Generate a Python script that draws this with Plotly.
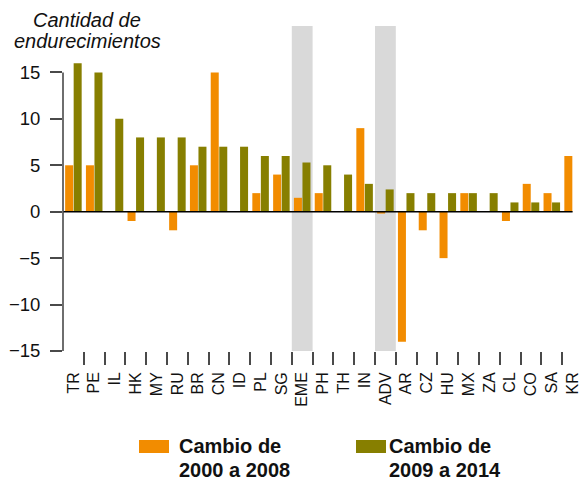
import plotly.graph_objects as go

# Countries / aggregates along the horizontal axis
categories = ["TR", "PE", "IL", "HK", "MY", "RU", "BR", "CN", "ID", "PL", "SG", "EME",
              "PH", "TH", "IN", "ADV", "AR", "CZ", "HU", "MX", "ZA", "CL", "CO", "SA", "KR"]

# Net number of tightening measures per period
change_2000_2008 = [5, 5, 0, -1, 0, -2, 5, 15, 0, 2, 4, 1.5,
                    2, 0, 9, -0.2, -14, -2, -5, 2, 0, -1, 3, 2, 6]
change_2009_2014 = [16, 15, 10, 8, 8, 8, 7, 7, 7, 6, 6, 5.3,
                    5, 4, 3, 2.4, 2, 2, 2, 2, 2, 1, 1, 1, 0]

# Aggregates highlighted with a shaded column
highlighted = ["EME", "ADV"]

y_ticks = [-15, -10, -5, 0, 5, 10, 15]
y_range = [-15, 20]

series_lines = [["Cambio de", "2000 a 2008"], ["Cambio de", "2009 a 2014"]]
title_lines = ["Cantidad de", "endurecimientos"]
colors = ["#F28C00", "#877F00"]

FONT = "Liberation Sans, Arial, Helvetica, sans-serif"
TEXT = "#111111"
AXIS = "#4a4a4a"

W, H = 583, 481
ML, MR, MT, MB = 63, 0, 26, 130
PW, PH = W - ML - MR, H - MT - MB


def px_x(px):
    return (px - ML) / PW


def px_y(py):
    return (H - MB - py) / PH


idx = list(range(len(categories)))

fig = go.Figure()
for vals, lines, col in zip([change_2000_2008, change_2009_2014], series_lines, colors):
    fig.add_trace(go.Bar(x=idx, y=vals, name=" ".join(lines),
                         marker=dict(color=col, line=dict(width=0)), showlegend=False))

# invisible trace that carries the boundary tick marks on the overlaid axis
fig.add_trace(go.Scatter(x=[idx[0]], y=[0], xaxis="x2", mode="markers",
                         marker=dict(opacity=0), showlegend=False, hoverinfo="skip"))

shapes = []
for name in highlighted:
    i = categories.index(name)
    shapes.append(dict(type="rect", xref="x", yref="paper", x0=i - 0.5, x1=i + 0.5,
                       y0=0, y1=1, fillcolor="#d9d9d9", line=dict(width=0), layer="below"))

# zero line across the bars
shapes.append(dict(type="line", xref="x", yref="y", x0=-0.5, x1=idx[-1], y0=0, y1=0,
                   line=dict(color="#000000", width=1.6), layer="above"))
# vertical axis line between the outer ticks
shapes.append(dict(type="line", xref="paper", yref="y", x0=0, x1=0,
                   y0=y_ticks[0], y1=y_ticks[-1], line=dict(color=AXIS, width=1.6)))

annotations = []


def text_line(txt, x, baseline, size, anchor, style):
    # one line of text, vertically centred a little above its baseline
    annotations.append(dict(xref="paper", yref="paper", x=px_x(x), y=px_y(baseline - 0.32 * size),
                            xanchor=anchor, yanchor="middle", showarrow=False, borderpad=0,
                            text=f"<{style}>{txt}</{style}>",
                            font=dict(family=FONT, size=size, color=TEXT)))


# legend swatches and labels
legend_pos = [(139, 169, 178), (356, 386, 388)]
for (sx0, sx1, tx), lines, col in zip(legend_pos, series_lines, colors):
    shapes.append(dict(type="rect", xref="paper", yref="paper",
                       x0=px_x(sx0), x1=px_x(sx1), y0=px_y(453), y1=px_y(440),
                       fillcolor=col, line=dict(width=0)))
    for txt, base in zip(lines, [452.5, 476.5]):
        text_line(txt, tx, base, 20, "left", "b")

# axis title above the vertical axis
for txt, base in zip(title_lines, [26.5, 47.5]):
    text_line(txt, 87, base, 20, "center", "i")

fig.update_layout(
    width=W, height=H,
    margin=dict(l=ML, r=MR, t=MT, b=MB, pad=0),
    paper_bgcolor="white", plot_bgcolor="white",
    barmode="group", bargap=0.18, bargroupgap=0.06,
    font=dict(family=FONT, color=TEXT),
    shapes=shapes, annotations=annotations,
    xaxis=dict(range=[-0.5, len(categories) - 0.5], tickmode="array", tickvals=idx,
               ticktext=categories, tickangle=-90, ticks="", showgrid=False,
               zeroline=False, showline=False, ticklabelstandoff=17,
               tickfont=dict(family=FONT, size=16, color=TEXT)),
    xaxis2=dict(range=[-0.5, len(categories) - 0.5], overlaying="x", anchor="y", side="bottom",
                tickmode="array", tickvals=[i + 0.5 for i in idx[:-1]],
                ticks="outside", ticklen=13, tickwidth=1.6, tickcolor=AXIS,
                showticklabels=False, showgrid=False, zeroline=False, showline=False),
    yaxis=dict(range=y_range, tickmode="array", tickvals=y_ticks, ticks="outside",
               ticklen=12, tickwidth=1.6, tickcolor=AXIS, showgrid=False, zeroline=False,
               showline=False, ticklabelstandoff=6,
               tickfont=dict(family=FONT, size=18.5, color=TEXT)),
)

fig.write_html("out.html")
